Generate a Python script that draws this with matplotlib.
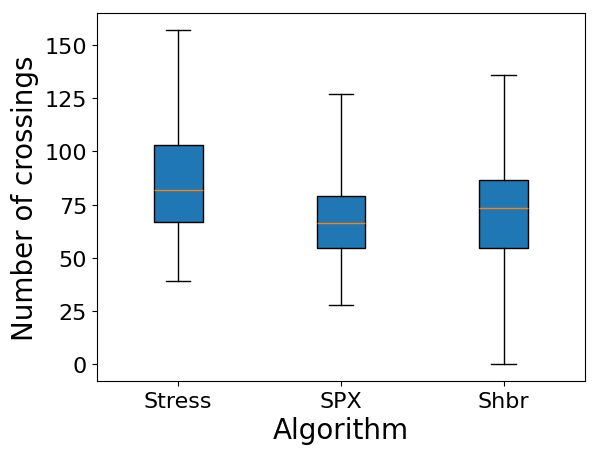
import matplotlib
matplotlib.use('Agg')
import matplotlib.pyplot as plt

algorithms = ['Stress', 'SPX', 'Shbr']
whisker_low = [39, 28, 0]
q1 = [67, 54.5, 54.5]
medians = [82, 66.5, 73.5]
q3 = [103, 79, 86.5]
whisker_high = [157, 127, 136]

stats = []
for i in range(len(algorithms)):
    stats.append({'label': algorithms[i], 'whislo': whisker_low[i], 'q1': q1[i],
                  'med': medians[i], 'q3': q3[i], 'whishi': whisker_high[i], 'fliers': []})

fig, ax = plt.subplots(figsize=(6.05, 4.56), dpi=100)
ax.bxp(stats, patch_artist=True, widths=0.3, showfliers=False)
ax.set_xlabel('Algorithm', fontsize=20)
ax.set_ylabel('Number of crossings', fontsize=20)
ax.tick_params(labelsize=16)
plt.subplots_adjust(left=0.160, right=0.967, top=0.969, bottom=0.162)
plt.savefig('out.png')
